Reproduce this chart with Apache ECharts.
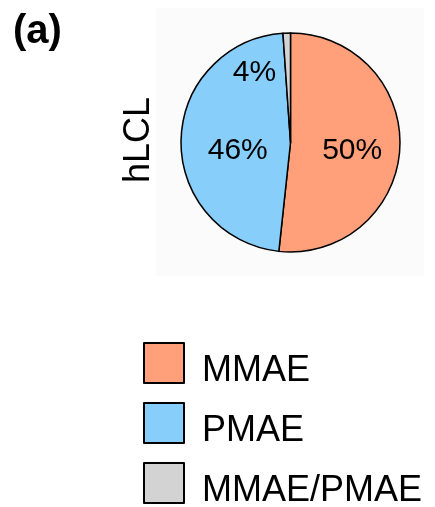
<!DOCTYPE html>
<html>
<head>
<meta charset="utf-8">
<script src="https://cdn.jsdelivr.net/npm/echarts@6/dist/echarts.min.js"></script>
<style>html,body{margin:0;padding:0;background:#fff}#c{width:435px;height:507px}</style>
</head>
<body>
<div id="c"></div>
<script>
var categories = ['MMAE', 'PMAE', 'MMAE/PMAE'];
var values = [51.7, 47.2, 1.1];
var labelTexts = ['50%', '46%', '4%'];
var colors = ['#FFA07A', '#87CEFA', '#D3D3D3'];
var panelLabel = 'hLCL';
var figureTag = '(a)';

var chart = echarts.init(document.getElementById('c'), null, {renderer: 'canvas'});
var FONT = 'Liberation Sans, Arial, sans-serif';
chart.setOption({
  animation: false,
  backgroundColor: '#ffffff',
  graphic: [
    {type: 'rect', z: -10, shape: {x: 156, y: 8, width: 268, height: 268}, style: {fill: '#fbfbfb'}},
    {type: 'text', left: 13, top: 12, style: {text: figureTag, font: 'bold 40px ' + FONT, fill: '#000'}},
    {type: 'text', x: 157, y: 140, rotation: Math.PI / 2, style: {text: panelLabel, font: '36px ' + FONT, fill: '#000', align: 'center', verticalAlign: 'bottom'}}
  ],
  legend: {
    orient: 'vertical',
    left: 143,
    top: 342,
    padding: 0,
    height: 260,
    itemWidth: 40,
    itemHeight: 40,
    itemGap: 13,
    icon: 'rect',
    data: categories,
    formatter: '{t|{name}}',
    itemStyle: {borderColor: '#000', borderWidth: 2},
    textStyle: {
      fontSize: 36, fontFamily: FONT, color: '#000', padding: [0, 0, 0, 13],
      rich: {t: {fontSize: 36, fontFamily: FONT, color: '#000', padding: [16, 0, 0, 0]}}
    },
    selectedMode: false
  },
  series: [{
    type: 'pie',
    center: [290.5, 142.5],
    radius: [0, 109.5],
    startAngle: 90,
    clockwise: true,
    silent: true,
    avoidLabelOverlap: false,
    label: {
      show: true,
      position: 'inside',
      fontSize: 30,
      fontFamily: FONT,
      color: '#000',
      formatter: function (p) { return labelTexts[p.dataIndex]; }
    },
    labelLine: {show: false},
    labelLayout: function (p) {
      if (p.dataIndex === 2) return {dx: -34, dy: -12};
      if (p.dataIndex === 1) return {dx: 5, dy: 9};
      return {dx: 4, dy: 5};
    },
    itemStyle: {borderColor: '#000', borderWidth: 1.5},
    data: categories.map(function (c, i) {
      return {name: c, value: values[i], itemStyle: {color: colors[i]}};
    })
  }]
});
</script>
</body>
</html>
